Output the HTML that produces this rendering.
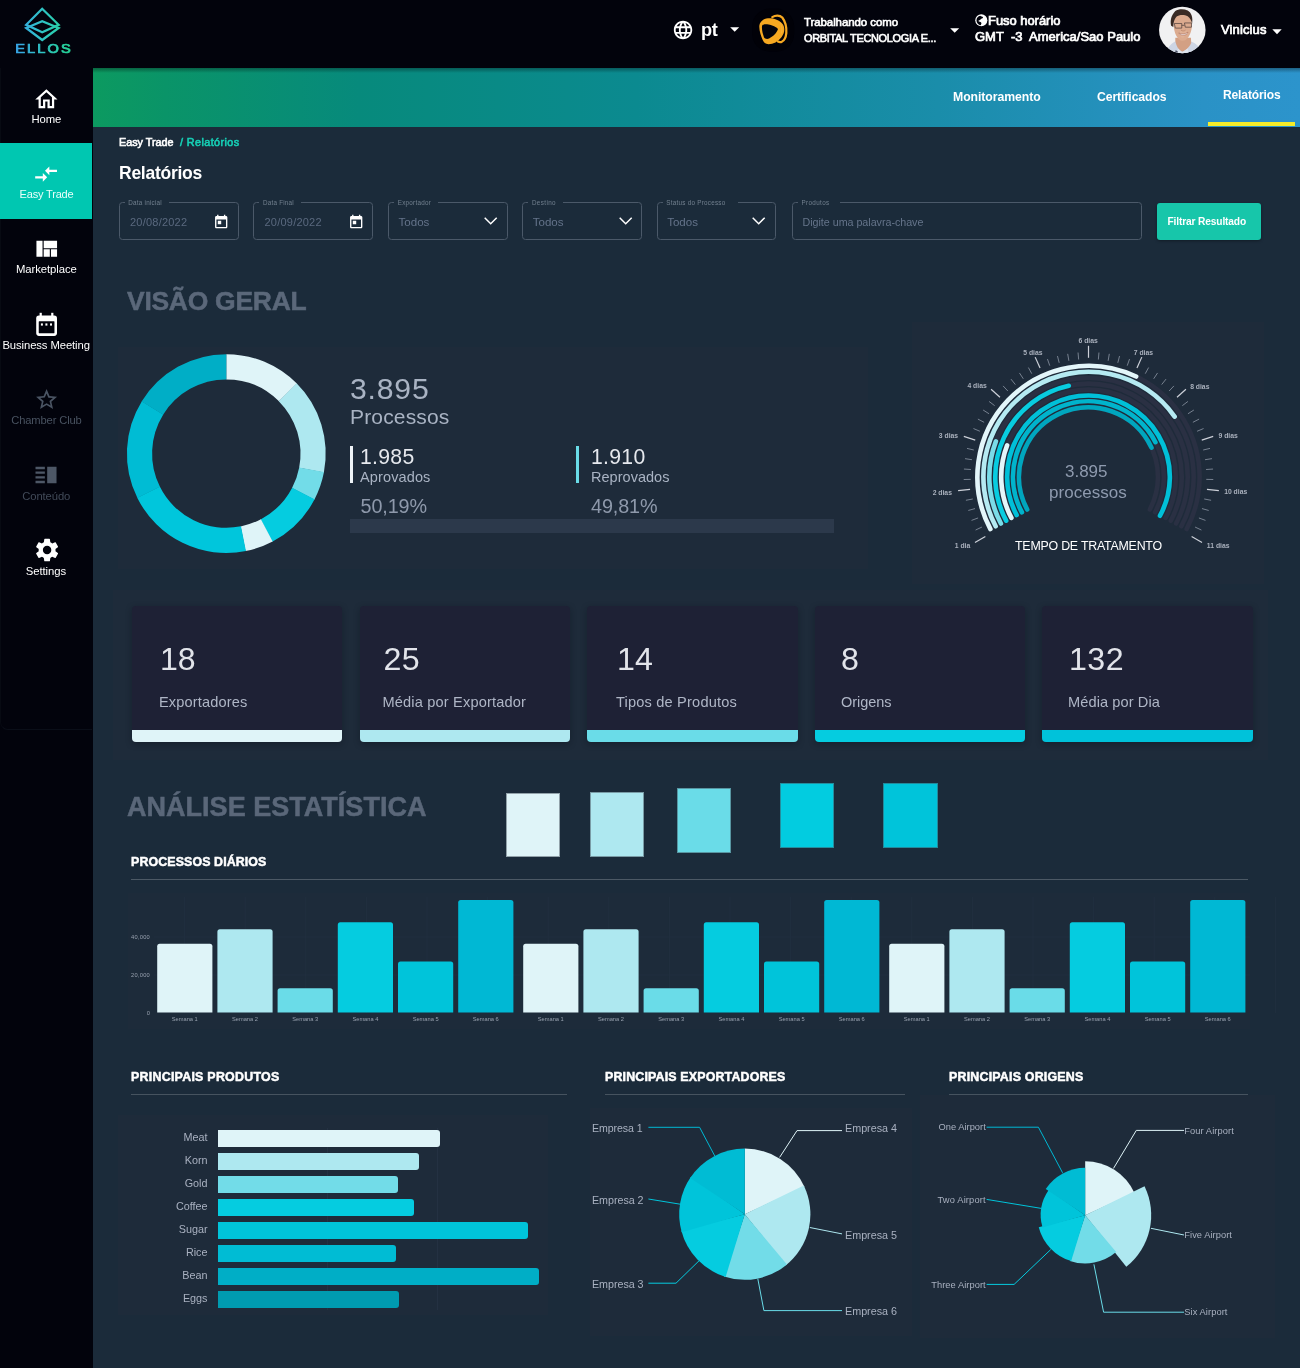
<!DOCTYPE html>
<html lang="pt"><head><meta charset="utf-8"><title>Ellos - Relatórios</title>
<style>
html,body{margin:0;padding:0}
body{width:1300px;height:1368px;overflow:hidden;position:relative;background:#02030c;font-family:"Liberation Sans", sans-serif;}
.t{position:absolute;white-space:pre;font-family:"Liberation Sans", sans-serif;}
.a{position:absolute}
svg{position:absolute;overflow:visible}
</style></head><body><div id="root" style="position:absolute;left:0;top:0;width:1300px;height:1368px;will-change:transform">
<div class="a" style="left:93px;top:68px;width:1207px;height:1300px;background:#1b2b3a"></div><div class="a" style="left:93px;top:68px;width:1207px;height:58.5px;background:linear-gradient(90deg,#0c9a60 0%,#0a9468 6%,#078a7c 22%,#0b8a90 45%,#1a8daa 70%,#2a92c6 92%,#2c94cc 100%)"></div><div class="a" style="left:93px;top:68px;width:1207px;height:5px;background:linear-gradient(180deg,rgba(0,0,0,.35),rgba(0,0,0,0))"></div><div class="a" style="left:0;top:68px;width:92px;height:662px;border-bottom:1px solid #0a0e18;border-left:1px solid #070a12;border-radius:0 0 0 8px;box-sizing:border-box"></div><div class="a" style="left:0;top:143px;width:92px;height:75.5px;background:#00c7b1"></div><svg style="left:0;top:0" width="92" height="68" viewBox="0 0 92 68">
<defs><linearGradient id="lg" gradientUnits="userSpaceOnUse" x1="15" x2="70" y1="0" y2="0"><stop offset="0" stop-color="#38a4ea"/><stop offset=".5" stop-color="#2fc4c4"/><stop offset="1" stop-color="#25d596"/></linearGradient><linearGradient id="lg2" gradientUnits="userSpaceOnUse" x1="0" x2="45" y1="0" y2="0"><stop offset="0" stop-color="#38a4ea"/><stop offset=".5" stop-color="#2fc4c4"/><stop offset="1" stop-color="#25d596"/></linearGradient></defs>
<g fill="none" stroke="url(#lg)" stroke-width="2.3" stroke-linejoin="miter">
<path d="M42.2 8.8 L26.2 24.8 L42.2 32.2 L58.6 24.8 Z"/>
<path d="M42.2 40 L26.2 28 L42.2 21.2 L58.6 28 Z"/>
</g>
<text transform="translate(15.2 53.2) scale(1.22 1)" font-family="Liberation Sans, sans-serif" font-size="12" font-weight="400" letter-spacing="1.7" fill="url(#lg2)" stroke="url(#lg2)" stroke-width="0.75">ELLOS</text></svg><svg style="left:33.32px;top:85.78px" width="26.75" height="26.75" viewBox="0 0 24 24"><path fill="#fff"  d="M12 5.69l5 4.5V18h-2v-6H9v6H7v-7.81l5-4.5M12 3L2 12h3v8h6v-6h2v6h6v-8h3L12 3z"/></svg><span class="t" style="left:31.50px;top:114.05px;font-size:11.30px;line-height:11.30px;font-weight:400;color:#fff;letter-spacing:-0.111px;">Home</span><svg style="left:33.37px;top:160.67px" width="26.17" height="26.17" viewBox="0 0 24 24"><path fill="#fff"  d="M9.01 14H2v2h7.01v3L13 15l-3.99-4v3zm5.98-1v-3H22V8h-7.01V5L11 9l3.99 4z"/></svg><span class="t" style="left:19.60px;top:188.78px;font-size:11.04px;line-height:11.04px;font-weight:400;color:#e9fffb;letter-spacing:-0.192px;">Easy Trade</span><svg style="left:32.85px;top:235.20px" width="27.50" height="27.50" viewBox="0 0 24 24"><path fill="#fff"  d="M21 5v6.5H9.33V5H21zm-6.33 14v-6.5H9.33V19h5.34zm1-6.5V19H21v-6.5h-5.33zM8.33 19V5H3v14h5.33z"/></svg><span class="t" style="left:16.00px;top:264.34px;font-size:11.31px;line-height:11.31px;font-weight:400;color:#fff;letter-spacing:-0.075px;">Marketplace</span><svg style="left:0;top:300px" width="92" height="60" viewBox="0 300 92 60">
<rect x="36.2" y="315.6" width="20.8" height="20.3" rx="2.8" fill="#fff"/>
<rect x="38.75" y="321.3" width="15.7" height="11.9" rx="0.4" fill="#02030c"/>
<rect x="39.6" y="312.8" width="2.2" height="4" fill="#fff"/><rect x="51.2" y="312.8" width="2.2" height="4" fill="#fff"/>
<rect x="40.9" y="323.4" width="2" height="2.2" fill="#fff"/><rect x="45.4" y="323.4" width="2" height="2.2" fill="#fff"/><rect x="50" y="323.4" width="2" height="2.2" fill="#fff"/></svg><span class="t" style="left:2.40px;top:339.86px;font-size:11.28px;line-height:11.28px;font-weight:400;color:#fff;letter-spacing:-0.089px;">Business Meeting</span><svg style="left:34.01px;top:387.29px" width="25.17" height="25.17" viewBox="0 0 24 24"><path fill="#4a5463"  d="M22 9.24l-7.19-.62L12 2 9.19 8.63 2 9.24l5.46 4.73L5.82 21 12 17.27 18.18 21l-1.63-7.03L22 9.24zM12 15.4l-3.76 2.27 1-4.28-3.32-2.88 4.38-.38L12 6.1l1.71 4.04 4.38.38-3.32 2.88 1 4.28L12 15.4z"/></svg><span class="t" style="left:11.30px;top:415.41px;font-size:11.18px;line-height:11.18px;font-weight:400;color:#485260;letter-spacing:-0.141px;">Chamber Club</span><svg style="left:32.43px;top:461.13px" width="28.04" height="28.04" viewBox="0 0 24 24"><path fill="#4d5766"  d="M3 15h8v-2H3v2zm0 4h8v-2H3v2zm0-8h8V9H3v2zm0-6v2h8V5H3zm10 0h8v14h-8V5z"/></svg><span class="t" style="left:22.20px;top:490.86px;font-size:11.27px;line-height:11.27px;font-weight:400;color:#414a58;letter-spacing:-0.100px;">Conteúdo</span><svg style="left:32.56px;top:536.31px" width="28.19" height="28.19" viewBox="0 0 24 24"><path fill="#fff"  d="M19.14,12.94c0.04-0.3,0.06-0.61,0.06-0.94c0-0.32-0.02-0.64-0.07-0.94l2.03-1.58c0.18-0.14,0.23-0.41,0.12-0.61 l-1.92-3.32c-0.12-0.22-0.37-0.29-0.59-0.22l-2.39,0.96c-0.5-0.38-1.03-0.7-1.62-0.94L14.4,2.81c-0.04-0.24-0.24-0.41-0.48-0.41 h-3.84c-0.24,0-0.43,0.17-0.47,0.41L9.25,5.35C8.66,5.59,8.12,5.92,7.63,6.29L5.24,5.33c-0.22-0.08-0.47,0-0.59,0.22L2.74,8.87 C2.62,9.08,2.66,9.34,2.86,9.48l2.03,1.58C4.84,11.36,4.8,11.69,4.8,12s0.02,0.64,0.07,0.94l-2.03,1.58 c-0.18,0.14-0.23,0.41-0.12,0.61l1.92,3.32c0.12,0.22,0.37,0.29,0.59,0.22l2.39-0.96c0.5,0.38,1.03,0.7,1.62,0.94l0.36,2.54 c0.05,0.24,0.24,0.41,0.48,0.41h3.84c0.24,0,0.44-0.17,0.47-0.41l0.36-2.54c0.59-0.24,1.13-0.56,1.62-0.94l2.39,0.96 c0.22,0.08,0.47,0,0.59-0.22l1.92-3.32c0.12-0.22,0.07-0.47-0.12-0.61L19.14,12.94z M12,15.6c-1.98,0-3.6-1.62-3.6-3.6 s1.62-3.6,3.6-3.6s3.6,1.62,3.6,3.6S13.98,15.6,12,15.6z"/></svg><span class="t" style="left:25.70px;top:566.13px;font-size:11.34px;line-height:11.34px;font-weight:400;color:#fff;letter-spacing:-0.060px;">Settings</span><svg style="left:671.96px;top:19.06px" width="22.08" height="22.08" viewBox="0 0 24 24"><path fill="#fff"  d="M11.99 2C6.47 2 2 6.48 2 12s4.47 10 9.99 10C17.52 22 22 17.52 22 12S17.52 2 11.99 2zm6.93 6h-2.95c-.32-1.25-.78-2.45-1.38-3.56 1.84.63 3.37 1.91 4.33 3.56zM12 4.04c.83 1.2 1.48 2.53 1.91 3.96h-3.82c.43-1.43 1.08-2.76 1.91-3.96zM4.26 14C4.1 13.36 4 12.69 4 12s.1-1.36.26-2h3.38c-.08.66-.14 1.32-.14 2 0 .68.06 1.34.14 2H4.26zm.82 2h2.95c.32 1.25.78 2.45 1.38 3.56-1.84-.63-3.37-1.9-4.33-3.56zm2.95-8H5.08c.96-1.66 2.49-2.93 4.33-3.56C8.81 5.55 8.35 6.75 8.03 8zM12 19.96c-.83-1.2-1.48-2.53-1.91-3.96h3.82c-.43 1.43-1.08 2.76-1.91 3.96zM14.34 14H9.66c-.09-.66-.16-1.32-.16-2 0-.68.07-1.35.16-2h4.68c.09.65.16 1.32.16 2 0 .68-.07 1.34-.16 2zm.25 5.56c.6-1.11 1.06-2.31 1.38-3.56h2.95c-.96 1.65-2.49 2.93-4.33 3.56zM16.36 14c.08-.66.14-1.32.14-2 0-.68-.06-1.34-.14-2h3.38c.16.64.26 1.31.26 2s-.1 1.36-.26 2h-3.38z"/></svg><span class="t" style="left:701.00px;top:21.12px;font-size:18.16px;line-height:18.16px;font-weight:700;color:#fff;letter-spacing:-0.323px;">pt</span><svg style="left:729.6px;top:27.2px" width="9.4" height="5" viewBox="0 0 9.4 5"><path d="M0.2 0.2H9.2L4.7 4.8Z" fill="#fff"/></svg><svg style="left:740px;top:0" width="70" height="60" viewBox="0 0 1300 1114"><rect x="225" y="160" width="780" height="800" rx="330" fill="#010108"/>
<path d="M600 318C650 282 735 272 785 325 830 385 868 510 860 615 852 695 822 755 775 777 748 787 722 782 705 772" fill="none" stroke="#f6a821" stroke-width="42" stroke-linecap="round"/>
<path d="M360 470C370 400 430 350 520 340 620 335 730 370 795 450 840 520 830 610 770 690 705 775 620 820 530 822 470 820 440 790 420 740 390 660 350 560 360 470Z" fill="#f6a821"/>
<path d="M410 480C420 450 470 440 530 455 600 470 680 500 705 540 690 600 620 680 540 715 500 730 460 720 445 690 420 620 400 540 410 480Z" fill="#02030c"/>
<path d="M745 420C775 470 790 540 770 620" fill="none" stroke="#f9bb4d" stroke-width="16" opacity=".6"/></svg><span class="t" style="left:804.00px;top:16.97px;font-size:11.45px;line-height:11.45px;font-weight:400;color:#fff;letter-spacing:-0.063px;-webkit-text-stroke:0.63px #fff;">Trabalhando como</span><span class="t" style="left:804.00px;top:32.93px;font-size:10.94px;line-height:10.94px;font-weight:400;color:#fff;letter-spacing:-0.300px;-webkit-text-stroke:0.60px #fff;">ORBITAL TECNOLOGIA E...</span><svg style="left:949.8px;top:27.8px" width="9.4" height="5" viewBox="0 0 9.4 5"><path d="M0.2 0.2H9.2L4.7 4.8Z" fill="#fff"/></svg><svg style="left:974.5px;top:14px" width="12.6" height="12.6" viewBox="0 0 24 24"><circle cx="12" cy="12" r="11.5" fill="#fff"/>
<path d="M10 3.2C11.5 4.6 14.5 4.4 15.4 6.6 14.6 8.8 11.4 8.4 10.4 10.6 9.6 12.4 7.2 11.6 6.4 13.4 7.6 15.4 10.6 14.6 12 16.6 13 18.4 11 19.6 11.2 21.6 6 21 2.6 16.6 2.8 11.6 3 7.4 6 4 10 3.2Z" fill="#02030c"/></svg><span class="t" style="left:988.00px;top:14.92px;font-size:12.95px;line-height:12.95px;font-weight:400;color:#fff;letter-spacing:-0.018px;-webkit-text-stroke:0.71px #fff;">Fuso horário</span><span class="t" style="left:975.00px;top:30.10px;font-size:13.00px;line-height:13.00px;font-weight:400;color:#fff;letter-spacing:0.011px;-webkit-text-stroke:0.71px #fff;">GMT  -3  America/Sao Paulo</span><svg style="left:1150px;top:0" width="70" height="60" viewBox="0 0 1300 1114"><defs><clipPath id="av"><circle cx="600" cy="555" r="432"/></clipPath></defs>
<g clip-path="url(#av)"><rect x="150" y="100" width="900" height="900" fill="#f1f1f2"/>
<path d="M300 1000C320 880 400 800 480 760L560 900 700 900 760 770C850 800 930 860 960 1000Z" fill="#cdd5e4"/>
<path d="M470 700L760 700 765 800C720 900 640 960 590 960 540 940 490 860 470 760Z" fill="#d3a084"/>
<path d="M520 900L600 965 700 900 720 1000 500 1000Z" fill="#dfe5ef"/>
<path d="M478 930L520 960 505 1000 465 985Z" fill="#474e63"/>
<path d="M440 380C450 300 520 262 620 266 720 276 778 340 778 440 782 560 742 680 662 742 622 767 572 762 532 722 462 652 430 520 440 380Z" fill="#dcab8f"/>
<path d="M560 560C600 590 650 590 690 555 680 640 640 700 600 700 560 690 545 630 560 560Z" fill="#e3b59b" opacity=".6"/>
<path d="M392 480C372 380 392 290 470 205 520 170 620 160 700 195 770 235 800 320 782 440 770 380 745 330 700 300 640 268 540 268 490 310 450 350 436 420 432 500Z" fill="#3a2b25"/>
<path d="M452 436H590V522H470ZM640 426H770V505H655ZM590 470H640" fill="none" stroke="#4a3c3a" stroke-width="13" stroke-linejoin="round"/>
<path d="M535 612C590 640 650 636 705 598 690 660 570 680 535 612Z" fill="#f6eeee" stroke="#a96d5a" stroke-width="10"/>
<path d="M575 560C600 580 640 580 660 556" fill="none" stroke="#b98268" stroke-width="12"/>
</g></svg><span class="t" style="left:1221.00px;top:23.30px;font-size:13.00px;line-height:13.00px;font-weight:400;color:#fff;letter-spacing:0.117px;-webkit-text-stroke:0.71px #fff;">Vinicius</span><svg style="left:1272px;top:28.6px" width="10" height="6" viewBox="0 0 10 6"><path d="M0.3 0.3H9.7L5 5.2Z" fill="#fff"/></svg><span class="t" style="left:953.00px;top:91.18px;font-size:12.25px;line-height:12.25px;font-weight:700;color:#fff;letter-spacing:-0.069px;">Monitoramento</span><span class="t" style="left:1097.00px;top:91.20px;font-size:12.20px;line-height:12.20px;font-weight:700;color:#fff;letter-spacing:-0.079px;">Certificados</span><span class="t" style="left:1223.00px;top:88.97px;font-size:12.05px;line-height:12.05px;font-weight:700;color:#fff;letter-spacing:-0.139px;">Relatórios</span><div class="a" style="left:1208px;top:121.5px;width:87px;height:4.5px;background:#f5ec2a"></div><span class="t" style="left:119.00px;top:136.81px;font-size:10.79px;line-height:10.79px;font-weight:400;color:#fff;letter-spacing:-0.006px;-webkit-text-stroke:0.59px #fff;">Easy Trade</span><span class="t" style="left:180.00px;top:136.80px;font-size:10.80px;line-height:10.80px;font-weight:400;color:#16d0b6;letter-spacing:0.408px;-webkit-text-stroke:0.59px #16d0b6;">/ Relatórios</span><span class="t" style="left:119.00px;top:164.53px;font-size:17.53px;line-height:17.53px;font-weight:700;color:#fff;letter-spacing:-0.268px;">Relatórios</span><div class="a" style="left:118.8px;top:202px;width:120.00000000000001px;height:37.5px;border:1px solid #4b5969;border-radius:3.5px;box-sizing:border-box"></div><div class="a" style="left:124.8px;top:200.5px;width:44.2px;height:4px;background:#1b2b3a"></div><span class="t" style="left:128.30px;top:200.05px;font-size:6.30px;line-height:6.30px;font-weight:400;color:#72808f;letter-spacing:0.241px;">Data inicial</span><span class="t" style="left:130.00px;top:216.50px;font-size:11.00px;line-height:11.00px;font-weight:400;color:#5a697f;letter-spacing:0.224px;">20/08/2022</span><svg style="left:213.49px;top:213.68px" width="16.41" height="16.41" viewBox="0 0 24 24"><path fill="#fff"  d="M19 3h-1V1h-2v2H8V1H6v2H5c-1.11 0-1.99.9-1.99 2L3 19c0 1.1.89 2 2 2h14c1.1 0 2-.9 2-2V5c0-1.1-.9-2-2-2zm0 16H5V8h14v11zM7 10h5v5H7z"/></svg><div class="a" style="left:253.4px;top:202px;width:119.6px;height:37.5px;border:1px solid #4b5969;border-radius:3.5px;box-sizing:border-box"></div><div class="a" style="left:259.4px;top:200.5px;width:41.599999999999994px;height:4px;background:#1b2b3a"></div><span class="t" style="left:262.90px;top:200.05px;font-size:6.30px;line-height:6.30px;font-weight:400;color:#72808f;letter-spacing:0.240px;">Data Final</span><span class="t" style="left:264.50px;top:216.50px;font-size:11.00px;line-height:11.00px;font-weight:400;color:#5a697f;letter-spacing:0.224px;">20/09/2022</span><svg style="left:347.99px;top:213.68px" width="16.41" height="16.41" viewBox="0 0 24 24"><path fill="#fff"  d="M19 3h-1V1h-2v2H8V1H6v2H5c-1.11 0-1.99.9-1.99 2L3 19c0 1.1.89 2 2 2h14c1.1 0 2-.9 2-2V5c0-1.1-.9-2-2-2zm0 16H5V8h14v11zM7 10h5v5H7z"/></svg><div class="a" style="left:388.2px;top:202px;width:120.0px;height:37.5px;border:1px solid #4b5969;border-radius:3.5px;box-sizing:border-box"></div><div class="a" style="left:394.2px;top:200.5px;width:43.80000000000001px;height:4px;background:#1b2b3a"></div><span class="t" style="left:397.70px;top:200.05px;font-size:6.30px;line-height:6.30px;font-weight:400;color:#72808f;letter-spacing:0.249px;">Exportador</span><span class="t" style="left:398.60px;top:217.02px;font-size:11.55px;line-height:11.55px;font-weight:400;color:#64738a;letter-spacing:-0.021px;">Todos</span><svg style="left:484px;top:217.3px" width="13.4" height="8" viewBox="0 0 13.4 8"><path d="M0.7 0.7L6.7 6.8L12.7 0.7" fill="none" stroke="#fff" stroke-width="1.5"/></svg><div class="a" style="left:522.4px;top:202px;width:119.20000000000005px;height:37.5px;border:1px solid #4b5969;border-radius:3.5px;box-sizing:border-box"></div><div class="a" style="left:528.4px;top:200.5px;width:34.60000000000002px;height:4px;background:#1b2b3a"></div><span class="t" style="left:531.90px;top:200.05px;font-size:6.30px;line-height:6.30px;font-weight:400;color:#72808f;letter-spacing:0.392px;">Destino</span><span class="t" style="left:532.80px;top:217.02px;font-size:11.55px;line-height:11.55px;font-weight:400;color:#64738a;letter-spacing:-0.021px;">Todos</span><svg style="left:618.6px;top:217.3px" width="13.4" height="8" viewBox="0 0 13.4 8"><path d="M0.7 0.7L6.7 6.8L12.7 0.7" fill="none" stroke="#fff" stroke-width="1.5"/></svg><div class="a" style="left:656.8px;top:202px;width:119.20000000000005px;height:37.5px;border:1px solid #4b5969;border-radius:3.5px;box-sizing:border-box"></div><div class="a" style="left:662.8px;top:200.5px;width:75.20000000000005px;height:4px;background:#1b2b3a"></div><span class="t" style="left:666.30px;top:200.05px;font-size:6.30px;line-height:6.30px;font-weight:400;color:#72808f;letter-spacing:0.255px;">Status do Processo</span><span class="t" style="left:667.20px;top:217.02px;font-size:11.55px;line-height:11.55px;font-weight:400;color:#64738a;letter-spacing:-0.021px;">Todos</span><svg style="left:752.4px;top:217.3px" width="13.4" height="8" viewBox="0 0 13.4 8"><path d="M0.7 0.7L6.7 6.8L12.7 0.7" fill="none" stroke="#fff" stroke-width="1.5"/></svg><div class="a" style="left:792px;top:202px;width:349.5999999999999px;height:37.5px;border:1px solid #4b5969;border-radius:3.5px;box-sizing:border-box"></div><div class="a" style="left:798px;top:200.5px;width:42px;height:4px;background:#1b2b3a"></div><span class="t" style="left:801.50px;top:200.05px;font-size:6.30px;line-height:6.30px;font-weight:400;color:#72808f;letter-spacing:0.350px;">Produtos</span><span class="t" style="left:802.50px;top:216.73px;font-size:10.73px;line-height:10.73px;font-weight:400;color:#65748a;letter-spacing:-0.027px;">Digite uma palavra-chave</span><div class="a" style="left:1157px;top:202.5px;width:104px;height:37px;background:#17c6aa;border-radius:3px;box-shadow:0 1px 3px rgba(0,0,0,.35)"></div><span class="t" style="left:1167.50px;top:217.10px;font-size:10.21px;line-height:10.21px;font-weight:700;color:#fff;letter-spacing:-0.151px;">Filtrar Resultado</span><span class="t" style="left:127.00px;top:287.76px;font-size:26.48px;line-height:26.48px;font-weight:700;color:#5b687a;letter-spacing:-0.267px;-webkit-text-stroke:0.5px #5b687a;">VISÃO GERAL</span><div class="a" style="left:118px;top:347px;width:750px;height:222px;background:#1e2b3a"></div><div class="a" style="left:912px;top:322px;width:352px;height:262px;background:#1e2b3a"></div><svg style="left:0;top:0" width="1300" height="700" viewBox="0 0 1300 700"><path d="M226.30 354.20A99.4 99.4 0 0 1 296.89 383.62L279.00 401.36A74.2 74.2 0 0 0 226.30 379.40Z" fill="#dff4f8"/><path d="M296.59 383.31A99.4 99.4 0 0 1 323.89 472.48L299.15 467.69A74.2 74.2 0 0 0 278.77 401.13Z" fill="#aee8f0"/><path d="M323.97 472.06A99.4 99.4 0 0 1 314.35 499.73L292.03 488.03A74.2 74.2 0 0 0 299.21 467.38Z" fill="#72dce8"/><path d="M314.55 499.34A99.4 99.4 0 0 1 272.27 541.73L260.62 519.39A74.2 74.2 0 0 0 292.18 487.75Z" fill="#05cce0"/><path d="M272.66 541.53A99.4 99.4 0 0 1 245.52 551.12L240.65 526.40A74.2 74.2 0 0 0 260.91 519.24Z" fill="#dff4f8"/><path d="M245.95 551.04A99.4 99.4 0 0 1 137.23 497.72L159.81 486.53A74.2 74.2 0 0 0 240.97 526.34Z" fill="#00c6dc"/><path d="M137.42 498.11A99.4 99.4 0 0 1 141.87 401.15L163.27 414.44A74.2 74.2 0 0 0 159.95 486.82Z" fill="#00bcd4"/><path d="M141.64 401.52A99.4 99.4 0 0 1 226.30 354.20L226.30 379.40A74.2 74.2 0 0 0 163.10 414.72Z" fill="#00aec6"/></svg><span class="t" style="left:350.00px;top:374.10px;font-size:30.20px;line-height:30.20px;font-weight:400;color:#a9b3c3;letter-spacing:0.791px;">3.895</span><span class="t" style="left:350.00px;top:405.90px;font-size:21.00px;line-height:21.00px;font-weight:400;color:#a9b3c3;letter-spacing:0.161px;">Processos</span><div class="a" style="left:350px;top:446px;width:3px;height:37px;background:#eef3f7"></div><span class="t" style="left:360.00px;top:445.50px;font-size:21.20px;line-height:21.20px;font-weight:400;color:#e6e9ee;letter-spacing:0.294px;">1.985</span><span class="t" style="left:360.00px;top:470.25px;font-size:14.50px;line-height:14.50px;font-weight:400;color:#a9b3c3;letter-spacing:0.130px;">Aprovados</span><span class="t" style="left:360.50px;top:497.01px;font-size:19.78px;line-height:19.78px;font-weight:400;color:#8e99ab;letter-spacing:-0.101px;">50,19%</span><div class="a" style="left:576px;top:446px;width:3px;height:37px;background:#6adce8"></div><span class="t" style="left:591.00px;top:445.50px;font-size:21.20px;line-height:21.20px;font-weight:400;color:#e6e9ee;letter-spacing:0.294px;">1.910</span><span class="t" style="left:591.00px;top:470.25px;font-size:14.50px;line-height:14.50px;font-weight:400;color:#a9b3c3;letter-spacing:0.031px;">Reprovados</span><span class="t" style="left:591.00px;top:497.01px;font-size:19.78px;line-height:19.78px;font-weight:400;color:#8e99ab;letter-spacing:-0.101px;">49,81%</span><div class="a" style="left:350px;top:519px;width:483.5px;height:13.5px;background:#2c394b"></div><svg style="left:0;top:0" width="1300" height="700" viewBox="0 0 1300 700"><path d="M990.40 529.06A111.10 111.10 0 1 1 1186.60 529.06" fill="none" stroke="#2a3043" stroke-width="4.6" stroke-linecap="round"/><path d="M995.66 526.26A105.15 105.15 0 1 1 1181.34 526.26" fill="none" stroke="#2a3043" stroke-width="4.6" stroke-linecap="round"/><path d="M1000.91 523.47A99.20 99.20 0 1 1 1176.09 523.47" fill="none" stroke="#2a3043" stroke-width="4.6" stroke-linecap="round"/><path d="M1006.17 520.68A93.25 93.25 0 1 1 1170.83 520.68" fill="none" stroke="#2a3043" stroke-width="4.6" stroke-linecap="round"/><path d="M1011.42 517.88A87.30 87.30 0 1 1 1165.58 517.88" fill="none" stroke="#2a3043" stroke-width="4.6" stroke-linecap="round"/><path d="M1016.67 515.09A81.35 81.35 0 1 1 1160.33 515.09" fill="none" stroke="#2a3043" stroke-width="4.6" stroke-linecap="round"/><path d="M1021.93 512.30A75.40 75.40 0 1 1 1155.07 512.30" fill="none" stroke="#2a3043" stroke-width="4.6" stroke-linecap="round"/><path d="M1027.18 509.50A69.45 69.45 0 1 1 1149.82 509.50" fill="none" stroke="#2a3043" stroke-width="4.6" stroke-linecap="round"/><path d="M990.40 529.06A111.10 111.10 0 0 1 1136.15 376.54" fill="none" stroke="#e3f6fa" stroke-width="4.6" stroke-linecap="round"/><path d="M995.66 526.26A105.15 105.15 0 0 1 1174.63 416.59" fill="none" stroke="#b5eaf2" stroke-width="4.6" stroke-linecap="round"/><path d="M1000.91 523.47A99.20 99.20 0 0 1 995.89 441.35" fill="none" stroke="#7adce8" stroke-width="4.6" stroke-linecap="round"/><path d="M1006.17 520.68A93.25 93.25 0 0 1 1068.79 385.76" fill="none" stroke="#08cce0" stroke-width="4.6" stroke-linecap="round"/><path d="M1011.42 517.88A87.30 87.30 0 0 1 1007.11 445.33" fill="none" stroke="#e3f6fa" stroke-width="4.6" stroke-linecap="round"/><path d="M1016.67 515.09A81.35 81.35 0 1 1 1159.99 515.72" fill="none" stroke="#00c0d8" stroke-width="4.6" stroke-linecap="round"/><path d="M1021.93 512.30A75.40 75.40 0 1 1 1155.44 442.20" fill="none" stroke="#00b4cc" stroke-width="4.6" stroke-linecap="round"/><path d="M1027.18 509.50A69.45 69.45 0 1 1 1151.49 447.66" fill="none" stroke="#00a6be" stroke-width="4.6" stroke-linecap="round"/><path d="M985.36 536.45L974.96 542.45" stroke="#cdd1d9" stroke-width="1.2"/><path d="M981.91 527.06L975.58 530.04" stroke="#808a98" stroke-width="0.9"/><path d="M978.09 517.96L971.53 520.40" stroke="#808a98" stroke-width="0.9"/><path d="M975.04 508.58L968.30 510.46" stroke="#808a98" stroke-width="0.9"/><path d="M972.79 498.97L965.91 500.29" stroke="#808a98" stroke-width="0.9"/><path d="M970.05 489.35L958.12 490.60" stroke="#cdd1d9" stroke-width="1.2"/><path d="M970.73 479.37L963.73 479.51" stroke="#808a98" stroke-width="0.9"/><path d="M970.93 469.50L963.95 469.06" stroke="#808a98" stroke-width="0.9"/><path d="M971.96 459.69L965.04 458.67" stroke="#808a98" stroke-width="0.9"/><path d="M973.81 450.00L967.00 448.40" stroke="#808a98" stroke-width="0.9"/><path d="M975.23 440.10L963.82 436.39" stroke="#cdd1d9" stroke-width="1.2"/><path d="M979.90 431.25L973.45 428.54" stroke="#808a98" stroke-width="0.9"/><path d="M984.11 422.32L977.90 419.08" stroke="#808a98" stroke-width="0.9"/><path d="M989.04 413.78L983.13 410.03" stroke="#808a98" stroke-width="0.9"/><path d="M994.67 405.68L989.09 401.45" stroke="#808a98" stroke-width="0.9"/><path d="M999.99 397.21L991.07 389.18" stroke="#cdd1d9" stroke-width="1.2"/><path d="M1007.86 391.03L1003.07 385.92" stroke="#808a98" stroke-width="0.9"/><path d="M1015.33 384.58L1010.98 379.10" stroke="#808a98" stroke-width="0.9"/><path d="M1023.31 378.78L1019.44 372.95" stroke="#808a98" stroke-width="0.9"/><path d="M1031.75 373.67L1028.38 367.54" stroke="#808a98" stroke-width="0.9"/><path d="M1040.06 368.10L1035.18 357.13" stroke="#cdd1d9" stroke-width="1.2"/><path d="M1049.76 365.65L1047.46 359.04" stroke="#808a98" stroke-width="0.9"/><path d="M1059.20 362.80L1057.46 356.02" stroke="#808a98" stroke-width="0.9"/><path d="M1068.85 360.75L1067.69 353.85" stroke="#808a98" stroke-width="0.9"/><path d="M1078.64 359.51L1078.06 352.54" stroke="#808a98" stroke-width="0.9"/><path d="M1088.50 357.80L1088.50 345.80" stroke="#cdd1d9" stroke-width="1.2"/><path d="M1098.36 359.51L1098.94 352.54" stroke="#808a98" stroke-width="0.9"/><path d="M1108.15 360.75L1109.31 353.85" stroke="#808a98" stroke-width="0.9"/><path d="M1117.80 362.80L1119.54 356.02" stroke="#808a98" stroke-width="0.9"/><path d="M1127.24 365.65L1129.54 359.04" stroke="#808a98" stroke-width="0.9"/><path d="M1136.94 368.10L1141.82 357.13" stroke="#cdd1d9" stroke-width="1.2"/><path d="M1145.25 373.67L1148.62 367.54" stroke="#808a98" stroke-width="0.9"/><path d="M1153.69 378.78L1157.56 372.95" stroke="#808a98" stroke-width="0.9"/><path d="M1161.67 384.58L1166.02 379.10" stroke="#808a98" stroke-width="0.9"/><path d="M1169.14 391.03L1173.93 385.92" stroke="#808a98" stroke-width="0.9"/><path d="M1177.01 397.21L1185.93 389.18" stroke="#cdd1d9" stroke-width="1.2"/><path d="M1182.33 405.68L1187.91 401.45" stroke="#808a98" stroke-width="0.9"/><path d="M1187.96 413.78L1193.87 410.03" stroke="#808a98" stroke-width="0.9"/><path d="M1192.89 422.32L1199.10 419.08" stroke="#808a98" stroke-width="0.9"/><path d="M1197.10 431.25L1203.55 428.54" stroke="#808a98" stroke-width="0.9"/><path d="M1201.77 440.10L1213.18 436.39" stroke="#cdd1d9" stroke-width="1.2"/><path d="M1203.19 450.00L1210.00 448.40" stroke="#808a98" stroke-width="0.9"/><path d="M1205.04 459.69L1211.96 458.67" stroke="#808a98" stroke-width="0.9"/><path d="M1206.07 469.50L1213.05 469.06" stroke="#808a98" stroke-width="0.9"/><path d="M1206.27 479.37L1213.27 479.51" stroke="#808a98" stroke-width="0.9"/><path d="M1206.95 489.35L1218.88 490.60" stroke="#cdd1d9" stroke-width="1.2"/><path d="M1204.21 498.97L1211.09 500.29" stroke="#808a98" stroke-width="0.9"/><path d="M1201.96 508.58L1208.70 510.46" stroke="#808a98" stroke-width="0.9"/><path d="M1198.91 517.96L1205.47 520.40" stroke="#808a98" stroke-width="0.9"/><path d="M1195.09 527.06L1201.42 530.04" stroke="#808a98" stroke-width="0.9"/><path d="M1191.64 536.45L1202.04 542.45" stroke="#cdd1d9" stroke-width="1.2"/></svg><span class="t" style="left:954.75px;top:543.20px;font-size:6.80px;line-height:6.80px;font-weight:700;color:#aab1bd;">1 dia</span><span class="t" style="left:932.66px;top:489.50px;font-size:6.80px;line-height:6.80px;font-weight:700;color:#aab1bd;">2 dias</span><span class="t" style="left:938.86px;top:433.00px;font-size:6.80px;line-height:6.80px;font-weight:700;color:#aab1bd;">3 dias</span><span class="t" style="left:967.46px;top:383.40px;font-size:6.80px;line-height:6.80px;font-weight:700;color:#aab1bd;">4 dias</span><span class="t" style="left:1023.26px;top:350.00px;font-size:6.80px;line-height:6.80px;font-weight:700;color:#aab1bd;">5 dias</span><span class="t" style="left:1078.56px;top:338.20px;font-size:6.80px;line-height:6.80px;font-weight:700;color:#aab1bd;">6 dias</span><span class="t" style="left:1133.76px;top:350.00px;font-size:6.80px;line-height:6.80px;font-weight:700;color:#aab1bd;">7 dias</span><span class="t" style="left:1190.16px;top:383.60px;font-size:6.80px;line-height:6.80px;font-weight:700;color:#aab1bd;">8 dias</span><span class="t" style="left:1218.56px;top:432.80px;font-size:6.80px;line-height:6.80px;font-weight:700;color:#aab1bd;">9 dias</span><span class="t" style="left:1224.17px;top:489.30px;font-size:6.80px;line-height:6.80px;font-weight:700;color:#aab1bd;">10 dias</span><span class="t" style="left:1206.86px;top:543.20px;font-size:6.80px;line-height:6.80px;font-weight:700;color:#aab1bd;">11 dias</span><span class="t" style="left:1065.00px;top:462.51px;font-size:16.99px;line-height:16.99px;font-weight:400;color:#8e9aae;letter-spacing:-0.004px;">3.895</span><span class="t" style="left:1049.00px;top:483.50px;font-size:17.00px;line-height:17.00px;font-weight:400;color:#8e9aae;letter-spacing:0.035px;">processos</span><span class="t" style="left:1015.00px;top:539.81px;font-size:12.39px;line-height:12.39px;font-weight:400;color:#fff;letter-spacing:-0.218px;">TEMPO DE TRATAMENTO</span><div class="a" style="left:113px;top:590px;width:1155px;height:170px;background:#1e2b3a"></div><div class="a" style="left:131.5px;top:606px;width:210.6px;height:135.8px;background:#1e2135;border-radius:4px;overflow:hidden;box-shadow:0 2px 6px rgba(10,14,24,.35)"><div style="position:absolute;left:0;right:0;bottom:0;height:12px;background:#dff4f8"></div></div><span class="t" style="left:160.00px;top:643.28px;font-size:32.05px;line-height:32.05px;font-weight:400;color:#e2e4ea;letter-spacing:-0.070px;">18</span><span class="t" style="left:159.00px;top:694.70px;font-size:14.60px;line-height:14.60px;font-weight:400;color:#afb6c6;letter-spacing:0.141px;">Exportadores</span><div class="a" style="left:359.5px;top:606px;width:210.6px;height:135.8px;background:#1e2135;border-radius:4px;overflow:hidden;box-shadow:0 2px 6px rgba(10,14,24,.35)"><div style="position:absolute;left:0;right:0;bottom:0;height:12px;background:#aee8f0"></div></div><span class="t" style="left:383.50px;top:643.20px;font-size:32.20px;line-height:32.20px;font-weight:400;color:#e2e4ea;letter-spacing:0.344px;">25</span><span class="t" style="left:382.50px;top:694.70px;font-size:14.60px;line-height:14.60px;font-weight:400;color:#afb6c6;letter-spacing:0.158px;">Média por Exportador</span><div class="a" style="left:587px;top:606px;width:210.6px;height:135.8px;background:#1e2135;border-radius:4px;overflow:hidden;box-shadow:0 2px 6px rgba(10,14,24,.35)"><div style="position:absolute;left:0;right:0;bottom:0;height:12px;background:#6adce8"></div></div><span class="t" style="left:617.00px;top:643.20px;font-size:32.20px;line-height:32.20px;font-weight:400;color:#e2e4ea;letter-spacing:0.094px;">14</span><span class="t" style="left:616.00px;top:694.70px;font-size:14.60px;line-height:14.60px;font-weight:400;color:#afb6c6;letter-spacing:0.182px;">Tipos de Produtos</span><div class="a" style="left:814.8px;top:606px;width:210.6px;height:135.8px;background:#1e2135;border-radius:4px;overflow:hidden;box-shadow:0 2px 6px rgba(10,14,24,.35)"><div style="position:absolute;left:0;right:0;bottom:0;height:12px;background:#05cce0"></div></div><span class="t" style="left:841.00px;top:643.20px;font-size:32.20px;line-height:32.20px;font-weight:400;color:#e2e4ea;letter-spacing:0.094px;">8</span><span class="t" style="left:841.00px;top:694.75px;font-size:14.50px;line-height:14.50px;font-weight:400;color:#afb6c6;letter-spacing:-0.039px;">Origens</span><div class="a" style="left:1042.3px;top:606px;width:210.6px;height:135.8px;background:#1e2135;border-radius:4px;overflow:hidden;box-shadow:0 2px 6px rgba(10,14,24,.35)"><div style="position:absolute;left:0;right:0;bottom:0;height:12px;background:#00c2da"></div></div><span class="t" style="left:1069.00px;top:643.20px;font-size:32.20px;line-height:32.20px;font-weight:400;color:#e2e4ea;letter-spacing:0.427px;">132</span><span class="t" style="left:1068.00px;top:694.70px;font-size:14.60px;line-height:14.60px;font-weight:400;color:#afb6c6;letter-spacing:0.088px;">Média por Dia</span><span class="t" style="left:127.00px;top:793.50px;font-size:27.00px;line-height:27.00px;font-weight:700;color:#5a6779;letter-spacing:0.025px;-webkit-text-stroke:0.5px #5a6779;">ANÁLISE ESTATÍSTICA</span><div class="a" style="left:506.2px;top:792.5px;width:53.8px;height:64.3px;background:#dff4f8;box-shadow:inset 0 0 0 1px rgba(70,80,92,.5)"></div><div class="a" style="left:589.6px;top:791.8px;width:54.4px;height:65.3px;background:#aee8f0;box-shadow:inset 0 0 0 1px rgba(70,80,92,.5)"></div><div class="a" style="left:677.2px;top:787.5px;width:54.3px;height:65px;background:#6adce8;box-shadow:inset 0 0 0 1px rgba(70,80,92,.5)"></div><div class="a" style="left:780px;top:783.4px;width:54.3px;height:64.7px;background:#02cce0;box-shadow:inset 0 0 0 1px rgba(70,80,92,.5)"></div><div class="a" style="left:883px;top:783.4px;width:54.6px;height:64.7px;background:#00c4da;box-shadow:inset 0 0 0 1px rgba(70,80,92,.5)"></div><span class="t" style="left:131.00px;top:856.30px;font-size:12.40px;line-height:12.40px;font-weight:700;color:#fff;letter-spacing:0.113px;-webkit-text-stroke:0.5px #fff;">PROCESSOS DIÁRIOS</span><div class="a" style="left:131px;top:879px;width:1117px;height:1px;background:#4c5965"></div><div class="a" style="left:128px;top:893px;width:1122px;height:136px;background:#1d2b3a"></div><svg style="left:0;top:860px" width="1300" height="200" viewBox="0 860 1300 200"><path d="M154 937H1250" stroke="#212f3f" stroke-width="1"/><path d="M154 975H1250" stroke="#212f3f" stroke-width="1"/><path d="M184.6 897V1013" stroke="#212f3f" stroke-width="1"/><path d="M245.2 897V1013" stroke="#212f3f" stroke-width="1"/><path d="M305.8 897V1013" stroke="#212f3f" stroke-width="1"/><path d="M366.4 897V1013" stroke="#212f3f" stroke-width="1"/><path d="M427.0 897V1013" stroke="#212f3f" stroke-width="1"/><path d="M487.6 897V1013" stroke="#212f3f" stroke-width="1"/><path d="M548.2 897V1013" stroke="#212f3f" stroke-width="1"/><path d="M608.8 897V1013" stroke="#212f3f" stroke-width="1"/><path d="M669.4 897V1013" stroke="#212f3f" stroke-width="1"/><path d="M730.0 897V1013" stroke="#212f3f" stroke-width="1"/><path d="M790.6 897V1013" stroke="#212f3f" stroke-width="1"/><path d="M851.2 897V1013" stroke="#212f3f" stroke-width="1"/><path d="M911.8 897V1013" stroke="#212f3f" stroke-width="1"/><path d="M972.4 897V1013" stroke="#212f3f" stroke-width="1"/><path d="M1033.0 897V1013" stroke="#212f3f" stroke-width="1"/><path d="M1093.6 897V1013" stroke="#212f3f" stroke-width="1"/><path d="M1154.2 897V1013" stroke="#212f3f" stroke-width="1"/><path d="M1214.8 897V1013" stroke="#212f3f" stroke-width="1"/><path d="M1275.4 897V1013" stroke="#212f3f" stroke-width="1"/><path d="M157.2 1012.6V946.3Q157.2 943.8 159.7 943.8H209.9Q212.4 943.8 212.4 946.3V1012.6Z" fill="#dff4f8"/><path d="M217.4 1012.6V931.7Q217.4 929.2 219.9 929.2H270.1Q272.6 929.2 272.6 931.7V1012.6Z" fill="#aee8f0"/><path d="M277.6 1012.6V990.7Q277.6 988.2 280.1 988.2H330.3Q332.8 988.2 332.8 990.7V1012.6Z" fill="#6adce8"/><path d="M337.8 1012.6V924.7Q337.8 922.2 340.3 922.2H390.5Q393.0 922.2 393.0 924.7V1012.6Z" fill="#05cce0"/><path d="M398.0 1012.6V964.0Q398.0 961.5 400.5 961.5H450.7Q453.2 961.5 453.2 964.0V1012.6Z" fill="#00c4da"/><path d="M458.2 1012.6V902.5Q458.2 900.0 460.7 900.0H510.9Q513.4 900.0 513.4 902.5V1012.6Z" fill="#00b8d4"/><path d="M523.2 1012.6V946.3Q523.2 943.8 525.7 943.8H575.9Q578.4 943.8 578.4 946.3V1012.6Z" fill="#dff4f8"/><path d="M583.4 1012.6V931.7Q583.4 929.2 585.9 929.2H636.1Q638.6 929.2 638.6 931.7V1012.6Z" fill="#aee8f0"/><path d="M643.6 1012.6V990.7Q643.6 988.2 646.1 988.2H696.3Q698.8 988.2 698.8 990.7V1012.6Z" fill="#6adce8"/><path d="M703.8 1012.6V924.7Q703.8 922.2 706.3 922.2H756.5Q759.0 922.2 759.0 924.7V1012.6Z" fill="#05cce0"/><path d="M764.0 1012.6V964.0Q764.0 961.5 766.5 961.5H816.7Q819.2 961.5 819.2 964.0V1012.6Z" fill="#00c4da"/><path d="M824.2 1012.6V902.5Q824.2 900.0 826.7 900.0H876.9Q879.4 900.0 879.4 902.5V1012.6Z" fill="#00b8d4"/><path d="M889.2 1012.6V946.3Q889.2 943.8 891.7 943.8H941.9Q944.4 943.8 944.4 946.3V1012.6Z" fill="#dff4f8"/><path d="M949.4 1012.6V931.7Q949.4 929.2 951.9 929.2H1002.1Q1004.6 929.2 1004.6 931.7V1012.6Z" fill="#aee8f0"/><path d="M1009.6 1012.6V990.7Q1009.6 988.2 1012.1 988.2H1062.3Q1064.8 988.2 1064.8 990.7V1012.6Z" fill="#6adce8"/><path d="M1069.8 1012.6V924.7Q1069.8 922.2 1072.3 922.2H1122.5Q1125.0 922.2 1125.0 924.7V1012.6Z" fill="#05cce0"/><path d="M1130.0 1012.6V964.0Q1130.0 961.5 1132.5 961.5H1182.7Q1185.2 961.5 1185.2 964.0V1012.6Z" fill="#00c4da"/><path d="M1190.2 1012.6V902.5Q1190.2 900.0 1192.7 900.0H1242.9Q1245.4 900.0 1245.4 902.5V1012.6Z" fill="#00b8d4"/></svg><span class="t" style="left:171.83px;top:1016.75px;font-size:5.70px;line-height:5.70px;font-weight:400;color:#98a1af;">Semana 1</span><span class="t" style="left:232.03px;top:1016.75px;font-size:5.70px;line-height:5.70px;font-weight:400;color:#98a1af;">Semana 2</span><span class="t" style="left:292.23px;top:1016.75px;font-size:5.70px;line-height:5.70px;font-weight:400;color:#98a1af;">Semana 3</span><span class="t" style="left:352.43px;top:1016.75px;font-size:5.70px;line-height:5.70px;font-weight:400;color:#98a1af;">Semana 4</span><span class="t" style="left:412.63px;top:1016.75px;font-size:5.70px;line-height:5.70px;font-weight:400;color:#98a1af;">Semana 5</span><span class="t" style="left:472.83px;top:1016.75px;font-size:5.70px;line-height:5.70px;font-weight:400;color:#98a1af;">Semana 6</span><span class="t" style="left:537.83px;top:1016.75px;font-size:5.70px;line-height:5.70px;font-weight:400;color:#98a1af;">Semana 1</span><span class="t" style="left:598.03px;top:1016.75px;font-size:5.70px;line-height:5.70px;font-weight:400;color:#98a1af;">Semana 2</span><span class="t" style="left:658.23px;top:1016.75px;font-size:5.70px;line-height:5.70px;font-weight:400;color:#98a1af;">Semana 3</span><span class="t" style="left:718.43px;top:1016.75px;font-size:5.70px;line-height:5.70px;font-weight:400;color:#98a1af;">Semana 4</span><span class="t" style="left:778.63px;top:1016.75px;font-size:5.70px;line-height:5.70px;font-weight:400;color:#98a1af;">Semana 5</span><span class="t" style="left:838.83px;top:1016.75px;font-size:5.70px;line-height:5.70px;font-weight:400;color:#98a1af;">Semana 6</span><span class="t" style="left:903.83px;top:1016.75px;font-size:5.70px;line-height:5.70px;font-weight:400;color:#98a1af;">Semana 1</span><span class="t" style="left:964.03px;top:1016.75px;font-size:5.70px;line-height:5.70px;font-weight:400;color:#98a1af;">Semana 2</span><span class="t" style="left:1024.23px;top:1016.75px;font-size:5.70px;line-height:5.70px;font-weight:400;color:#98a1af;">Semana 3</span><span class="t" style="left:1084.43px;top:1016.75px;font-size:5.70px;line-height:5.70px;font-weight:400;color:#98a1af;">Semana 4</span><span class="t" style="left:1144.63px;top:1016.75px;font-size:5.70px;line-height:5.70px;font-weight:400;color:#98a1af;">Semana 5</span><span class="t" style="left:1204.83px;top:1016.75px;font-size:5.70px;line-height:5.70px;font-weight:400;color:#98a1af;">Semana 6</span><span class="t" style="left:131.00px;top:935.15px;font-size:5.70px;line-height:5.70px;font-weight:400;color:#98a1af;letter-spacing:0.266px;">40,000</span><span class="t" style="left:131.00px;top:973.15px;font-size:5.70px;line-height:5.70px;font-weight:400;color:#98a1af;letter-spacing:0.266px;">20,000</span><span class="t" style="left:146.83px;top:1011.15px;font-size:5.70px;line-height:5.70px;font-weight:400;color:#98a1af;">0</span><span class="t" style="left:131.00px;top:1071.30px;font-size:12.40px;line-height:12.40px;font-weight:700;color:#fff;letter-spacing:0.266px;-webkit-text-stroke:0.5px #fff;">PRINCIPAIS PRODUTOS</span><div class="a" style="left:131px;top:1093.5px;width:436px;height:1px;background:#46535f"></div><div class="a" style="left:118px;top:1115px;width:430px;height:200px;background:#1e2b3a"></div><div class="a" style="left:327px;top:1128px;width:1px;height:182px;background:#243142"></div><div class="a" style="left:437px;top:1128px;width:1px;height:182px;background:#243142"></div><div class="a" style="left:217.7px;top:1130.0px;width:222.7px;height:16.6px;background:#dff4f8;border-radius:0 3px 3px 0"></div><span class="t" style="left:183.48px;top:1132.20px;font-size:10.80px;line-height:10.80px;font-weight:400;color:#a9b1c0;">Meat</span><div class="a" style="left:217.7px;top:1153.0px;width:201.1px;height:16.6px;background:#aee8f0;border-radius:0 3px 3px 0"></div><span class="t" style="left:184.69px;top:1155.22px;font-size:10.80px;line-height:10.80px;font-weight:400;color:#a9b1c0;">Korn</span><div class="a" style="left:217.7px;top:1176.0px;width:180.8px;height:16.6px;background:#72dce8;border-radius:0 3px 3px 0"></div><span class="t" style="left:184.69px;top:1178.24px;font-size:10.80px;line-height:10.80px;font-weight:400;color:#a9b1c0;">Gold</span><div class="a" style="left:217.7px;top:1199.1px;width:196.1px;height:16.6px;background:#05cce0;border-radius:0 3px 3px 0"></div><span class="t" style="left:175.88px;top:1201.26px;font-size:10.80px;line-height:10.80px;font-weight:400;color:#a9b1c0;">Coffee</span><div class="a" style="left:217.7px;top:1222.1px;width:310.0px;height:16.6px;background:#00c4da;border-radius:0 3px 3px 0"></div><span class="t" style="left:178.69px;top:1224.28px;font-size:10.80px;line-height:10.80px;font-weight:400;color:#a9b1c0;">Sugar</span><div class="a" style="left:217.7px;top:1245.1px;width:178.1px;height:16.6px;background:#00bcd4;border-radius:0 3px 3px 0"></div><span class="t" style="left:185.89px;top:1247.30px;font-size:10.80px;line-height:10.80px;font-weight:400;color:#a9b1c0;">Rice</span><div class="a" style="left:217.7px;top:1268.1px;width:321.1px;height:16.6px;background:#00aec6;border-radius:0 3px 3px 0"></div><span class="t" style="left:182.28px;top:1270.32px;font-size:10.80px;line-height:10.80px;font-weight:400;color:#a9b1c0;">Bean</span><div class="a" style="left:217.7px;top:1291.1px;width:181.1px;height:16.6px;background:#009bb0;border-radius:0 3px 3px 0"></div><span class="t" style="left:182.89px;top:1293.34px;font-size:10.80px;line-height:10.80px;font-weight:400;color:#a9b1c0;">Eggs</span><span class="t" style="left:605.00px;top:1071.30px;font-size:12.40px;line-height:12.40px;font-weight:700;color:#fff;letter-spacing:0.175px;-webkit-text-stroke:0.5px #fff;">PRINCIPAIS EXPORTADORES</span><div class="a" style="left:605px;top:1093.5px;width:300px;height:1px;background:#46535f"></div><div class="a" style="left:590px;top:1108px;width:322px;height:228px;background:#1e2b3a"></div><div class="a" style="left:920px;top:1095px;width:355px;height:243px;background:#1e2b3a"></div><svg style="left:0;top:1050px" width="1300" height="318" viewBox="0 1050 1300 318"><path d="M744.80 1214.20L744.80 1148.60A65.6 65.6 0 0 1 804.49 1187.00Z" fill="#dff4f8"/><path d="M744.80 1214.20L803.76 1185.44A65.6 65.6 0 0 1 785.64 1265.54Z" fill="#aee8f0"/><path d="M744.80 1214.20L786.97 1264.45A65.6 65.6 0 0 1 723.98 1276.41Z" fill="#72dce8"/><path d="M744.80 1214.20L725.62 1276.93A65.6 65.6 0 0 1 681.29 1230.62Z" fill="#05cce0"/><path d="M744.80 1214.20L681.74 1232.28A65.6 65.6 0 0 1 691.13 1176.48Z" fill="#00c4da"/><path d="M744.80 1214.20L690.16 1177.90A65.6 65.6 0 0 1 744.80 1148.60Z" fill="#00bcd4"/><path d="M648.4 1127.3L699.6 1127.3L714.8 1156.0" fill="none" stroke="#00b8d4" stroke-width="1"/><path d="M648.4 1199.0L680.2 1204.2" fill="none" stroke="#00c4da" stroke-width="1"/><path d="M648.4 1283.2L676.0 1283.2L699.3 1260.5" fill="none" stroke="#05cce0" stroke-width="1"/><path d="M779.6 1157.4L797.0 1130.6L842.0 1130.6" fill="none" stroke="#dff4f8" stroke-width="1"/><path d="M809.8 1227.5L842.0 1233.9" fill="none" stroke="#aee8f0" stroke-width="1"/><path d="M757.8 1278.7L763.9 1310.6L842.0 1310.6" fill="none" stroke="#6adce8" stroke-width="1"/><path d="M1085.20 1215.20L1085.20 1161.20A54 54 0 0 1 1134.34 1192.81Z" fill="#dff4f8"/><path d="M1085.20 1215.20L1144.52 1186.27A66 66 0 0 1 1126.29 1266.85Z" fill="#aee8f0"/><path d="M1085.20 1215.20L1116.18 1252.12A48.2 48.2 0 0 1 1069.91 1260.91Z" fill="#72dce8"/><path d="M1085.20 1215.20L1071.17 1261.10A48 48 0 0 1 1038.73 1227.22Z" fill="#05cce0"/><path d="M1085.20 1215.20L1042.52 1227.44A44.4 44.4 0 0 1 1048.87 1189.67Z" fill="#00c4da"/><path d="M1085.20 1215.20L1045.72 1188.97A47.4 47.4 0 0 1 1085.20 1167.80Z" fill="#00bcd4"/><path d="M986.6 1127.2L1038.4 1127.2L1062.6 1172.8" fill="none" stroke="#00b8d4" stroke-width="1"/><path d="M986.6 1199.4L1041.3 1208.4" fill="none" stroke="#00c4da" stroke-width="1"/><path d="M986.6 1284.4L1014.1 1284.4L1050.7 1249.6" fill="none" stroke="#05cce0" stroke-width="1"/><path d="M1113.5 1168.4L1136.3 1130.4L1184.0 1130.4" fill="none" stroke="#dff4f8" stroke-width="1"/><path d="M1150.9 1228.3L1184.0 1235.0" fill="none" stroke="#aee8f0" stroke-width="1"/><path d="M1093.9 1264.3L1103.6 1312.2L1184.0 1312.2" fill="none" stroke="#6adce8" stroke-width="1"/></svg><span class="t" style="left:592.00px;top:1122.80px;font-size:10.60px;line-height:10.60px;font-weight:400;color:#a9b1c0;letter-spacing:-0.086px;">Empresa 1</span><span class="t" style="left:592.00px;top:1194.54px;font-size:10.72px;line-height:10.72px;font-weight:400;color:#a9b1c0;letter-spacing:-0.036px;">Empresa 2</span><span class="t" style="left:592.00px;top:1278.54px;font-size:10.72px;line-height:10.72px;font-weight:400;color:#a9b1c0;letter-spacing:-0.036px;">Empresa 3</span><span class="t" style="left:845.00px;top:1123.01px;font-size:10.78px;line-height:10.78px;font-weight:400;color:#a9b1c0;letter-spacing:-0.011px;">Empresa 4</span><span class="t" style="left:845.00px;top:1230.41px;font-size:10.78px;line-height:10.78px;font-weight:400;color:#a9b1c0;letter-spacing:-0.011px;">Empresa 5</span><span class="t" style="left:845.00px;top:1306.41px;font-size:10.78px;line-height:10.78px;font-weight:400;color:#a9b1c0;letter-spacing:-0.011px;">Empresa 6</span><span class="t" style="left:949.00px;top:1071.30px;font-size:12.40px;line-height:12.40px;font-weight:700;color:#fff;letter-spacing:0.217px;-webkit-text-stroke:0.5px #fff;">PRINCIPAIS ORIGENS</span><div class="a" style="left:949px;top:1093.5px;width:299px;height:1px;background:#46535f"></div><span class="t" style="left:938.50px;top:1123.45px;font-size:9.30px;line-height:9.30px;font-weight:400;color:#a9b1c0;letter-spacing:0.024px;">One Airport</span><span class="t" style="left:937.50px;top:1195.75px;font-size:9.30px;line-height:9.30px;font-weight:400;color:#a9b1c0;letter-spacing:0.162px;">Two Airport</span><span class="t" style="left:931.20px;top:1280.75px;font-size:9.30px;line-height:9.30px;font-weight:400;color:#a9b1c0;letter-spacing:0.065px;">Three Airport</span><span class="t" style="left:1184.30px;top:1126.55px;font-size:9.30px;line-height:9.30px;font-weight:400;color:#a9b1c0;letter-spacing:0.077px;">Four Airport</span><span class="t" style="left:1184.30px;top:1231.25px;font-size:9.30px;line-height:9.30px;font-weight:400;color:#a9b1c0;letter-spacing:0.057px;">Five Airport</span><span class="t" style="left:1184.30px;top:1308.45px;font-size:9.30px;line-height:9.30px;font-weight:400;color:#a9b1c0;letter-spacing:0.075px;">Six Airport</span></div></body></html>
